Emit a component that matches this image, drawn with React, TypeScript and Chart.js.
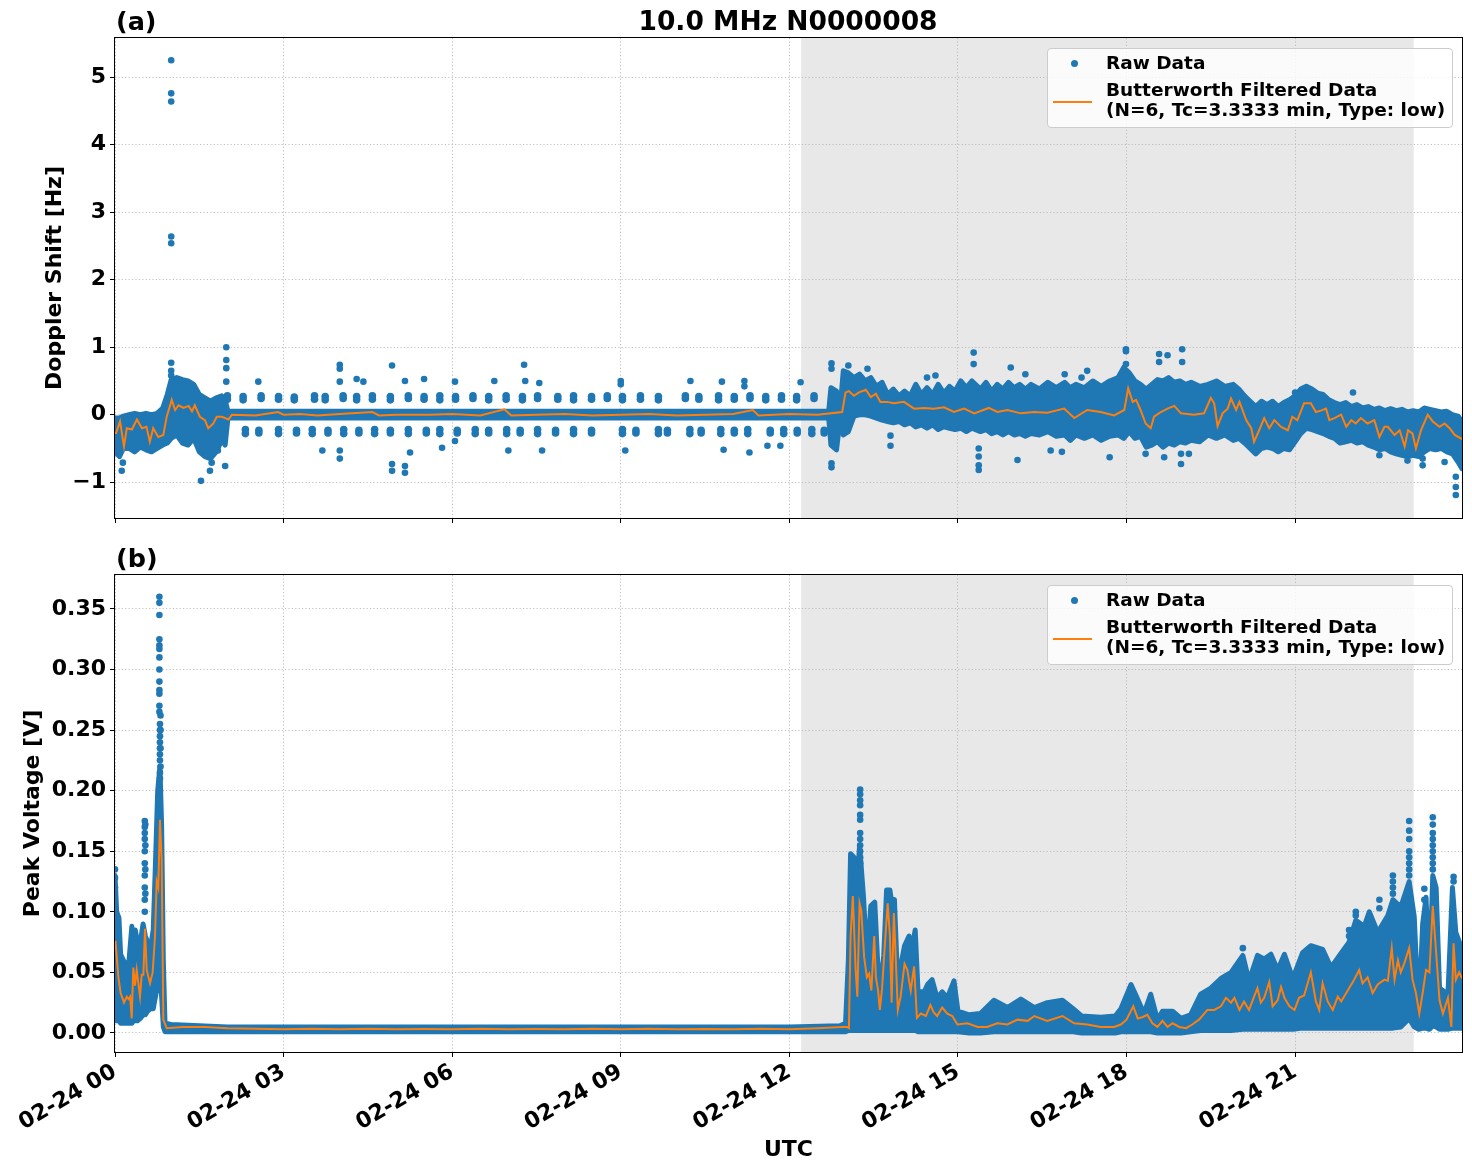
import React, { useEffect, useRef } from "react";
import { Chart, registerables } from "chart.js";
Chart.register(...registerables);

// ---------------- data (hours since 02-24 00:00 UTC) ----------------
const X_MIN = 0;
const X_MAX = 23.97;
const SHADE_START = 12.21;
const SHADE_END = 23.11;

const TITLE = "10.0 MHz N0000008";
const LEGEND_RAW = "Raw Data";
const LEGEND_FILT_1 = "Butterworth Filtered Data";
const LEGEND_FILT_2 = "(N=6, Tc=3.3333 min, Type: low)";

// Doppler: dense raw-data band [t, upper, lower]
const DOP_BAND: [number, number, number][] = [
  [0.0, -0.05, -0.55], [0.08, -0.05, -0.62], [0.15, -0.02, -0.5], [0.25, 0.0, -0.5], [0.35, 0.02, -0.55],
  [0.45, 0.0, -0.48], [0.55, 0.02, -0.52], [0.65, 0.0, -0.55], [0.75, 0.02, -0.5], [0.85, 0.1, -0.45],
  [0.93, 0.3, -0.42], [1.0, 0.52, -0.35], [1.1, 0.55, -0.3], [1.2, 0.52, -0.42], [1.3, 0.5, -0.45],
  [1.4, 0.45, -0.35], [1.5, 0.3, -0.55], [1.6, 0.25, -0.62], [1.7, 0.2, -0.65], [1.8, 0.25, -0.55],
  [1.9, 0.28, -0.38], [1.96, 0.22, -0.45], [2.01, 0.05, -0.05], [12.7, 0.05, -0.05], [12.74, 0.4, -0.45],
  [12.84, 0.35, -0.52], [12.9, 0.05, -0.08], [12.96, 0.65, -0.3], [13.05, 0.62, -0.25], [13.15, 0.55, -0.02],
  [13.25, 0.6, 0.0], [13.35, 0.5, 0.0], [13.45, 0.55, -0.02], [13.55, 0.42, -0.05], [13.65, 0.48, -0.08],
  [13.75, 0.3, -0.1], [13.85, 0.38, -0.12], [13.95, 0.28, -0.1], [14.05, 0.35, -0.15], [14.15, 0.28, -0.12],
  [14.25, 0.45, -0.18], [14.35, 0.3, -0.15], [14.45, 0.4, -0.2], [14.55, 0.3, -0.15], [14.65, 0.45, -0.22],
  [14.75, 0.32, -0.18], [14.85, 0.42, -0.2], [14.95, 0.35, -0.22], [15.05, 0.5, -0.2], [15.15, 0.4, -0.25],
  [15.25, 0.5, -0.2], [15.4, 0.38, -0.25], [15.5, 0.48, -0.22], [15.6, 0.35, -0.28], [15.7, 0.45, -0.25],
  [15.8, 0.38, -0.3], [15.9, 0.48, -0.25], [16.0, 0.4, -0.3], [16.1, 0.45, -0.28], [16.2, 0.38, -0.32],
  [16.3, 0.45, -0.28], [16.45, 0.38, -0.3], [16.6, 0.48, -0.25], [16.75, 0.4, -0.32], [16.9, 0.48, -0.3],
  [17.0, 0.4, -0.38], [17.1, 0.45, -0.3], [17.25, 0.4, -0.35], [17.4, 0.5, -0.3], [17.55, 0.42, -0.38],
  [17.7, 0.5, -0.32], [17.85, 0.55, -0.3], [17.95, 0.7, -0.35], [18.05, 0.62, -0.25], [18.15, 0.5, -0.35],
  [18.25, 0.45, -0.32], [18.35, 0.38, -0.48], [18.45, 0.45, -0.45], [18.55, 0.52, -0.4], [18.65, 0.5, -0.48],
  [18.75, 0.55, -0.42], [18.85, 0.48, -0.45], [18.95, 0.5, -0.4], [19.05, 0.45, -0.42], [19.15, 0.48, -0.38],
  [19.3, 0.42, -0.4], [19.45, 0.45, -0.3], [19.6, 0.5, -0.35], [19.75, 0.42, -0.3], [19.9, 0.45, -0.38],
  [20.0, 0.38, -0.35], [20.1, 0.28, -0.42], [20.2, 0.2, -0.5], [20.3, 0.12, -0.58], [20.4, 0.2, -0.5],
  [20.5, 0.15, -0.48], [20.6, 0.2, -0.5], [20.7, 0.12, -0.55], [20.8, 0.18, -0.5], [20.9, 0.22, -0.52],
  [21.0, 0.28, -0.4], [21.1, 0.38, -0.28], [21.2, 0.42, -0.2], [21.3, 0.38, -0.22], [21.4, 0.32, -0.25],
  [21.5, 0.3, -0.28], [21.6, 0.22, -0.32], [21.7, 0.18, -0.35], [21.8, 0.15, -0.42], [21.9, 0.18, -0.4],
  [22.0, 0.12, -0.38], [22.1, 0.15, -0.42], [22.2, 0.1, -0.4], [22.3, 0.12, -0.45], [22.4, 0.08, -0.48],
  [22.5, 0.1, -0.52], [22.6, 0.06, -0.5], [22.7, 0.09, -0.55], [22.8, 0.06, -0.58], [22.9, 0.08, -0.6],
  [23.0, 0.04, -0.62], [23.1, 0.06, -0.6], [23.2, 0.04, -0.62], [23.3, 0.1, -0.55], [23.4, 0.08, -0.5],
  [23.5, 0.06, -0.52], [23.6, 0.04, -0.5], [23.7, 0.05, -0.55], [23.8, 0.0, -0.58], [23.9, -0.02, -0.7],
  [23.97, -0.1, -0.8],
];

// Doppler: recurring raw-data clumps in the quiet period [t, values...]
const DOP_CLUMPS: [number, number[]][] = [
  [2.0, [0.28, 0.23]], [2.28, [0.27, 0.22]], [2.6, [0.28, 0.24]], [2.91, [0.27, 0.23]], [3.19, [0.26, 0.22]],
  [3.55, [0.28, 0.23]], [3.74, [0.27, 0.22]], [4.06, [0.28, 0.24]], [4.3, [0.27, 0.22]], [4.58, [0.28, 0.23]],
  [4.9, [0.27, 0.22]], [5.22, [0.28, 0.24]], [5.5, [0.27, 0.23]], [5.78, [0.28, 0.22]], [6.06, [0.27, 0.23]],
  [6.37, [0.28, 0.24]], [6.65, [0.27, 0.22]], [6.96, [0.28, 0.23]], [7.25, [0.27, 0.22]], [7.52, [0.28, 0.24]],
  [7.88, [0.27, 0.23]], [8.16, [0.28, 0.22]], [8.48, [0.27, 0.23]], [8.76, [0.28, 0.24]], [9.03, [0.27, 0.22]],
  [9.35, [0.28, 0.23]], [9.67, [0.27, 0.22]], [10.15, [0.28, 0.24]], [10.39, [0.27, 0.23]], [10.74, [0.28, 0.22]],
  [11.02, [0.27, 0.23]], [11.3, [0.28, 0.24]], [11.58, [0.27, 0.22]], [11.86, [0.28, 0.23]], [12.13, [0.27, 0.22]],
  [12.44, [0.28, 0.24]],
  [2.32, [-0.22, -0.28]], [2.56, [-0.23, -0.27]], [2.91, [-0.22, -0.28]], [3.23, [-0.23, -0.27]], [3.51, [-0.22, -0.28]],
  [3.79, [-0.23, -0.27]], [4.07, [-0.22, -0.28]], [4.34, [-0.23, -0.27]], [4.62, [-0.22, -0.28]], [4.9, [-0.23, -0.27]],
  [5.22, [-0.22, -0.28]], [5.54, [-0.23, -0.27]], [5.78, [-0.22, -0.28]], [6.09, [-0.23, -0.27]], [6.41, [-0.22, -0.28]],
  [6.65, [-0.23, -0.27]], [6.97, [-0.22, -0.28]], [7.21, [-0.23, -0.27]], [7.52, [-0.22, -0.28]], [7.84, [-0.23, -0.27]],
  [8.16, [-0.22, -0.28]], [8.48, [-0.23, -0.27]], [9.03, [-0.22, -0.28]], [9.27, [-0.23, -0.27]], [9.67, [-0.22, -0.28]],
  [9.83, [-0.23, -0.27]], [10.23, [-0.22, -0.28]], [10.43, [-0.23, -0.27]], [10.78, [-0.22, -0.28]], [11.02, [-0.23, -0.27]],
  [11.26, [-0.22, -0.28]], [11.66, [-0.23, -0.27]], [11.9, [-0.22, -0.28]], [12.14, [-0.23, -0.27]], [12.4, [-0.22, -0.28]],
  [12.62, [-0.23, -0.27]],
];

// Doppler: isolated raw-data points [t, values...]
const DOP_OUTLIERS: [number, number[]][] = [
  [0.12, [-0.83]], [0.14, [-0.71]], [1.0, [5.25, 4.76, 4.64, 2.64, 2.54, 0.77, 0.65, 0.58]],
  [1.53, [-0.98]], [1.62, [-0.6]], [1.69, [-0.83]], [1.72, [-0.71]], [1.83, [-0.53]],
  [1.96, [-0.76]], [1.98, [1.0, 0.81, 0.69, 0.49]], [2.55, [0.49]], [3.69, [-0.53]],
  [4.0, [0.74, 0.68, 0.49, -0.53, -0.65]], [4.3, [0.53]], [4.42, [0.49]], [4.93, [0.73, -0.73, -0.83]],
  [5.16, [0.5, -0.76, -0.86]], [5.25, [-0.56]], [5.5, [0.53]], [5.82, [-0.49]], [6.05, [0.49, -0.39]],
  [6.75, [0.5]], [7.0, [-0.53]], [7.28, [0.74]], [7.3, [0.5]], [7.55, [0.47]], [7.6, [-0.53]],
  [9.0, [0.5, 0.45]], [9.08, [-0.53]], [10.24, [0.5]], [10.8, [0.49]], [10.83, [-0.52]],
  [11.2, [0.5, 0.42]], [11.29, [-0.56]], [11.61, [-0.46]], [11.84, [-0.46]], [12.2, [0.48]],
  [12.75, [0.76, 0.68, -0.78, -0.72]], [13.05, [0.73]], [13.39, [0.68]], [13.8, [-0.31, -0.46]],
  [14.45, [0.55]], [14.6, [0.58]], [15.28, [0.92, 0.75]], [15.37, [-0.5, -0.62, -0.75, -0.82]],
  [15.94, [0.7]], [16.06, [-0.67]], [16.2, [0.6]], [16.65, [-0.53]], [16.85, [-0.55]], [16.9, [0.6]],
  [17.2, [0.55]], [17.3, [0.65]], [17.7, [-0.63]], [17.99, [0.97, 0.94, 0.75]], [18.34, [-0.58]],
  [18.58, [0.9, 0.78]], [18.67, [-0.63]], [18.73, [0.88]], [18.97, [-0.58, -0.73]], [18.99, [0.97, 0.78]],
  [19.11, [-0.58]], [21.0, [0.33, 0.24]], [22.03, [0.33]], [22.5, [-0.6]], [23.0, [-0.68]],
  [23.27, [-0.65, -0.75]], [23.66, [-0.7]], [23.86, [-0.92, -1.07, -1.19]],
];

// Doppler: Butterworth filtered series [t, value]
const DOP_FILTERED: [number, number][] = [
  [0.0, -0.27], [0.02, -0.27], [0.09, -0.1], [0.16, -0.47], [0.21, -0.2], [0.3, -0.22], [0.39, -0.07],
  [0.48, -0.2], [0.56, -0.18], [0.62, -0.4], [0.68, -0.2], [0.77, -0.33], [0.86, -0.3], [0.92, -0.03],
  [1.01, 0.22], [1.07, 0.07], [1.13, 0.14], [1.22, 0.1], [1.31, 0.13], [1.37, 0.05], [1.42, 0.14],
  [1.51, -0.03], [1.6, -0.08], [1.66, -0.2], [1.75, -0.13], [1.81, -0.03], [1.9, -0.03], [2.02, -0.07],
  [2.08, 0.0], [2.5, -0.01], [2.9, 0.04], [3.0, 0.0], [3.3, 0.01], [3.6, -0.01], [4.0, 0.01], [4.58, 0.04],
  [4.7, -0.01], [5.0, 0.0], [5.6, 0.0], [6.0, 0.01], [6.5, -0.01], [6.93, 0.08], [7.05, -0.01], [7.5, 0.0],
  [8.0, 0.01], [8.5, -0.01], [9.0, 0.0], [9.5, 0.01], [10.0, -0.01], [10.5, 0.0], [11.0, 0.01], [11.35, 0.07],
  [11.45, -0.01], [12.0, 0.01], [12.5, 0.0], [12.94, 0.04], [13.0, 0.33], [13.06, 0.35], [13.15, 0.28],
  [13.24, 0.33], [13.36, 0.37], [13.45, 0.26], [13.54, 0.31], [13.62, 0.19], [13.74, 0.19], [13.86, 0.17],
  [14.04, 0.19], [14.22, 0.09], [14.4, 0.1], [14.57, 0.09], [14.75, 0.11], [14.93, 0.04], [15.11, 0.09],
  [15.29, 0.02], [15.55, 0.1], [15.7, 0.04], [15.88, 0.07], [16.12, 0.02], [16.36, 0.04], [16.59, 0.03],
  [16.89, 0.09], [17.07, -0.05], [17.3, 0.07], [17.54, 0.04], [17.78, -0.01], [17.96, 0.07], [18.03, 0.39],
  [18.11, 0.19], [18.17, 0.22], [18.25, 0.07], [18.34, -0.13], [18.43, -0.2], [18.49, -0.03], [18.61, 0.04],
  [18.73, 0.09], [18.85, 0.13], [18.97, 0.02], [19.2, 0.0], [19.38, 0.02], [19.5, 0.25], [19.56, 0.17],
  [19.62, -0.17], [19.71, 0.02], [19.8, 0.09], [19.86, 0.24], [19.95, 0.07], [20.01, 0.19], [20.13, -0.08],
  [20.22, -0.2], [20.27, -0.4], [20.36, -0.23], [20.45, -0.05], [20.54, -0.2], [20.63, -0.08], [20.75, -0.18],
  [20.87, -0.23], [20.95, -0.03], [21.04, -0.08], [21.16, 0.17], [21.28, 0.17], [21.37, 0.04], [21.46, 0.06],
  [21.55, 0.09], [21.61, -0.08], [21.7, -0.05], [21.82, 0.0], [21.91, -0.18], [22.0, -0.08], [22.08, -0.13],
  [22.17, -0.05], [22.29, -0.13], [22.41, -0.08], [22.5, -0.33], [22.59, -0.18], [22.65, -0.18], [22.77, -0.3],
  [22.86, -0.23], [22.95, -0.47], [23.01, -0.23], [23.09, -0.28], [23.15, -0.5], [23.24, -0.23], [23.36, 0.0],
  [23.45, -0.1], [23.57, -0.18], [23.66, -0.13], [23.75, -0.2], [23.84, -0.3], [23.97, -0.36],
];

// Peak voltage: dense raw-data band [t, upper, lower]
const VOLT_BAND: [number, number, number][] = [
  [0.0, 0.13, 0.012], [0.03, 0.1, 0.01], [0.07, 0.095, 0.01], [0.1, 0.065, 0.008], [0.15, 0.06, 0.008],
  [0.2, 0.055, 0.008], [0.25, 0.06, 0.008], [0.3, 0.088, 0.008], [0.33, 0.06, 0.01], [0.36, 0.085, 0.01],
  [0.4, 0.075, 0.01], [0.45, 0.075, 0.012], [0.5, 0.09, 0.015], [0.54, 0.08, 0.015], [0.58, 0.075, 0.018],
  [0.63, 0.07, 0.02], [0.68, 0.085, 0.02], [0.72, 0.14, 0.03], [0.76, 0.2, 0.04], [0.8, 0.22, 0.05],
  [0.83, 0.17, 0.03], [0.86, 0.06, 0.005], [0.89, 0.008, 0.001], [1.0, 0.007, 0.001], [2.0, 0.005, 0.001],
  [12.0, 0.005, 0.001], [12.9, 0.006, 0.001], [13.0, 0.008, 0.001], [13.05, 0.06, 0.002], [13.09, 0.148, 0.002],
  [13.15, 0.145, 0.002], [13.2, 0.118, 0.002], [13.25, 0.155, 0.002], [13.32, 0.112, 0.002], [13.38, 0.06, 0.002],
  [13.45, 0.105, 0.002], [13.52, 0.108, 0.002], [13.57, 0.06, 0.002], [13.62, 0.035, 0.002], [13.68, 0.064, 0.002],
  [13.73, 0.118, 0.002], [13.79, 0.118, 0.002], [13.83, 0.105, 0.002], [13.87, 0.11, 0.002], [13.92, 0.05, 0.002],
  [13.98, 0.055, 0.002], [14.05, 0.072, 0.002], [14.13, 0.08, 0.002], [14.19, 0.072, 0.002], [14.24, 0.085, 0.002],
  [14.29, 0.034, 0.001], [14.4, 0.034, 0.001], [14.46, 0.04, 0.001], [14.54, 0.044, 0.001], [14.63, 0.029, 0.001],
  [14.72, 0.034, 0.001], [14.81, 0.029, 0.001], [14.93, 0.043, 0.001], [15.0, 0.018, 0.001], [15.2, 0.015, 0.0],
  [15.4, 0.016, 0.0], [15.64, 0.027, 0.001], [15.88, 0.021, 0.001], [16.12, 0.028, 0.001], [16.36, 0.021, 0.001],
  [16.59, 0.025, 0.001], [16.86, 0.027, 0.001], [17.05, 0.02, 0.001], [17.2, 0.014, 0.0], [17.54, 0.013, 0.0],
  [17.8, 0.014, 0.0], [17.9, 0.02, 0.001], [18.08, 0.04, 0.001], [18.16, 0.032, 0.001], [18.31, 0.016, 0.001],
  [18.43, 0.032, 0.001], [18.55, 0.011, 0.0], [18.64, 0.018, 0.0], [18.82, 0.018, 0.0], [18.97, 0.012, 0.0],
  [19.14, 0.015, 0.001], [19.32, 0.032, 0.002], [19.5, 0.037, 0.002], [19.68, 0.045, 0.002], [19.86, 0.05, 0.002],
  [20.07, 0.064, 0.003], [20.18, 0.043, 0.003], [20.33, 0.064, 0.003], [20.45, 0.061, 0.003], [20.57, 0.065, 0.003],
  [20.69, 0.052, 0.003], [20.81, 0.065, 0.003], [20.96, 0.045, 0.003], [21.13, 0.066, 0.004], [21.28, 0.072, 0.004],
  [21.49, 0.069, 0.004], [21.64, 0.054, 0.004], [21.79, 0.064, 0.004], [21.96, 0.075, 0.004], [22.08, 0.093, 0.004],
  [22.23, 0.088, 0.004], [22.32, 0.1, 0.004], [22.47, 0.083, 0.004], [22.65, 0.097, 0.004], [22.74, 0.11, 0.004],
  [22.88, 0.104, 0.005], [23.03, 0.125, 0.012], [23.12, 0.096, 0.005], [23.2, 0.015, 0.003], [23.27, 0.09, 0.004],
  [23.33, 0.112, 0.004], [23.39, 0.043, 0.003], [23.45, 0.13, 0.006], [23.51, 0.12, 0.005], [23.57, 0.037, 0.003],
  [23.72, 0.032, 0.003], [23.8, 0.12, 0.004], [23.86, 0.083, 0.004], [23.97, 0.069, 0.004],
];

// Peak voltage: isolated raw-data points [t, values...]
const VOLT_OUTLIERS: [number, number[]][] = [
  [0.0, [0.135, 0.128, 0.12]],
  [0.53, [0.175, 0.17, 0.165, 0.16, 0.15, 0.14, 0.13, 0.12, 0.11, 0.1]],
  [0.54, [0.172, 0.155, 0.135, 0.115]],
  [0.79, [0.36, 0.355, 0.345, 0.325, 0.32, 0.317, 0.31, 0.3, 0.29, 0.283, 0.28, 0.27, 0.265]],
  [0.8, [0.255, 0.25, 0.245, 0.24, 0.235, 0.23, 0.225, 0.215, 0.21, 0.2]],
  [0.81, [0.262, 0.25, 0.235, 0.22]],
  [13.26, [0.201, 0.197, 0.192, 0.188, 0.18, 0.176, 0.165, 0.16, 0.155, 0.15, 0.145, 0.14]],
  [20.07, [0.07]], [21.96, [0.085, 0.08]], [22.08, [0.1, 0.097]], [22.5, [0.11, 0.103]],
  [22.74, [0.13, 0.125, 0.12, 0.115]],
  [23.03, [0.175, 0.167, 0.16, 0.15, 0.145, 0.14, 0.135, 0.13]],
  [23.3, [0.119, 0.11]],
  [23.45, [0.178, 0.172, 0.165, 0.16, 0.155, 0.15, 0.145, 0.14, 0.135]],
  [23.82, [0.129, 0.125]],
];

// Peak voltage: Butterworth filtered series [t, value]
const VOLT_FILTERED: [number, number][] = [
  [0.0, 0.076], [0.01, 0.075], [0.06, 0.046], [0.1, 0.033], [0.16, 0.025], [0.21, 0.03], [0.24, 0.028],
  [0.27, 0.03], [0.297, 0.012], [0.326, 0.054], [0.356, 0.039], [0.386, 0.052], [0.445, 0.03], [0.475, 0.048],
  [0.505, 0.048], [0.534, 0.086], [0.564, 0.052], [0.623, 0.041], [0.67, 0.05], [0.712, 0.08], [0.742, 0.125],
  [0.77, 0.12], [0.8, 0.176], [0.83, 0.143], [0.86, 0.011], [0.92, 0.004], [1.2, 0.005], [1.6, 0.005],
  [2.0, 0.004], [2.5, 0.0035], [3.0, 0.003], [3.5, 0.0035], [4.0, 0.003], [4.5, 0.0035], [5.0, 0.003],
  [5.5, 0.0032], [6.0, 0.003], [6.5, 0.0035], [7.0, 0.003], [7.5, 0.0032], [8.0, 0.003], [8.5, 0.0035],
  [9.0, 0.003], [9.5, 0.0035], [10.0, 0.003], [10.5, 0.0033], [11.0, 0.003], [11.5, 0.0035], [12.0, 0.003],
  [12.5, 0.004], [12.95, 0.005], [13.03, 0.005], [13.06, 0.004], [13.09, 0.08], [13.13, 0.113], [13.18, 0.052],
  [13.21, 0.03], [13.25, 0.107], [13.28, 0.101], [13.33, 0.063], [13.38, 0.046], [13.42, 0.049], [13.46, 0.035],
  [13.51, 0.08], [13.54, 0.046], [13.58, 0.035], [13.61, 0.019], [13.65, 0.037], [13.71, 0.08], [13.75, 0.107],
  [13.79, 0.08], [13.82, 0.025], [13.86, 0.099], [13.89, 0.066], [13.93, 0.019], [13.98, 0.03], [14.05, 0.057],
  [14.1, 0.052], [14.16, 0.035], [14.22, 0.055], [14.27, 0.0125], [14.34, 0.016], [14.43, 0.014], [14.51, 0.023],
  [14.57, 0.017], [14.63, 0.014], [14.72, 0.021], [14.81, 0.016], [14.9, 0.014], [14.99, 0.007], [15.17, 0.008],
  [15.35, 0.005], [15.52, 0.005], [15.7, 0.008], [15.88, 0.007], [16.06, 0.011], [16.24, 0.01], [16.36, 0.014],
  [16.59, 0.01], [16.86, 0.014], [17.07, 0.008], [17.3, 0.007], [17.54, 0.005], [17.78, 0.005], [17.9, 0.007],
  [18.0, 0.011], [18.12, 0.022], [18.2, 0.012], [18.28, 0.013], [18.37, 0.015], [18.46, 0.008], [18.55, 0.005],
  [18.64, 0.01], [18.73, 0.005], [18.82, 0.008], [18.94, 0.005], [19.06, 0.004], [19.17, 0.007], [19.29, 0.011],
  [19.44, 0.019], [19.56, 0.019], [19.68, 0.022], [19.77, 0.029], [19.86, 0.025], [19.92, 0.029], [20.01, 0.019],
  [20.09, 0.026], [20.18, 0.019], [20.27, 0.03], [20.33, 0.037], [20.39, 0.025], [20.45, 0.029], [20.54, 0.042],
  [20.6, 0.022], [20.69, 0.027], [20.75, 0.038], [20.81, 0.029], [20.9, 0.022], [20.99, 0.019], [21.07, 0.029],
  [21.16, 0.031], [21.28, 0.05], [21.37, 0.026], [21.43, 0.019], [21.49, 0.041], [21.58, 0.026], [21.67, 0.019],
  [21.76, 0.03], [21.82, 0.026], [21.91, 0.033], [21.96, 0.037], [22.05, 0.044], [22.14, 0.052], [22.2, 0.041],
  [22.29, 0.046], [22.38, 0.033], [22.47, 0.04], [22.59, 0.044], [22.65, 0.043], [22.72, 0.07], [22.77, 0.044],
  [22.83, 0.06], [22.88, 0.05], [22.94, 0.057], [23.03, 0.07], [23.09, 0.044], [23.15, 0.033], [23.21, 0.016],
  [23.27, 0.033], [23.33, 0.052], [23.39, 0.05], [23.45, 0.105], [23.51, 0.066], [23.57, 0.027], [23.63, 0.016],
  [23.72, 0.029], [23.78, 0.005], [23.82, 0.074], [23.86, 0.044], [23.92, 0.05], [23.97, 0.045],
];

// ---------------- styling ----------------
const BLUE = "#1f77b4";
const ORANGE = "#ff7f0e";
const FONT = "DejaVu Sans";
const TICK_FONT = { family: FONT, size: 22, weight: "bold" as const };
const LABEL_FONT = { family: FONT, size: 22, weight: "bold" as const };

const band = (rows: [number, number, number][], i: number) => rows.map((r) => ({ x: r[0], y: r[i] }));
const pairs = (rows: [number, number][]) => rows.map((r) => ({ x: r[0], y: r[1] }));
const columns = (rows: [number, number[]][]) => rows.flatMap((r) => r[1].map((v) => ({ x: r[0], y: v })));

const panelPlugin = {
  id: "panelDecor",
  beforeDraw(chart: any) {
    const { ctx, chartArea: a, scales } = chart;
    const x0 = scales.x.getPixelForValue(SHADE_START);
    const x1 = scales.x.getPixelForValue(SHADE_END);
    ctx.save();
    ctx.fillStyle = "#e8e8e8";
    ctx.fillRect(x0, a.top, x1 - x0, a.bottom - a.top);
    ctx.restore();
  },
  afterDraw(chart: any) {
    const { ctx, chartArea: a } = chart;
    ctx.save();
    ctx.strokeStyle = "#000";
    ctx.lineWidth = 1;
    ctx.strokeRect(a.left - 0.5, a.top - 0.5, a.right - a.left + 1, a.bottom - a.top + 1);
    ctx.restore();
  },
};

function makeDatasets(bandRows: any, clumps: any, outliers: any, filtered: any) {
  const ds: any[] = [
    {
      data: pairs(filtered), showLine: true, borderColor: ORANGE, borderWidth: 2, pointRadius: 0,
      fill: false, tension: 0, clip: 0,
    },
    {
      data: columns(outliers), showLine: false, pointRadius: 3.3, pointBorderWidth: 0,
      pointBackgroundColor: BLUE, backgroundColor: BLUE, clip: 0,
    },
  ];
  if (clumps) {
    ds.push({
      data: columns(clumps), showLine: false, pointRadius: 3.8, pointBorderWidth: 0,
      pointBackgroundColor: BLUE, backgroundColor: BLUE, clip: 0,
    });
  }
  ds.push(
    {
      data: band(bandRows, 1), showLine: true, borderColor: BLUE, borderWidth: 5, pointRadius: 0,
      borderJoinStyle: "round", borderCapStyle: "round", fill: "+1", backgroundColor: BLUE, tension: 0, clip: 0,
    },
    {
      data: band(bandRows, 2), showLine: true, borderColor: BLUE, borderWidth: 5, pointRadius: 0,
      borderJoinStyle: "round", borderCapStyle: "round", fill: false, tension: 0, clip: 0,
    }
  );
  return ds;
}

function makeOptions(p: any) {
  return {
    responsive: false,
    animation: false,
    events: [],
    layout: { padding: { top: p.padTop, right: 10, left: 0, bottom: 0 } },
    plugins: { legend: { display: false }, tooltip: { enabled: false }, title: { display: false } },
    scales: {
      x: {
        type: "linear",
        min: X_MIN,
        max: X_MAX,
        afterFit: (s: any) => { s.height = p.xHeight; },
        grid: { color: "#b0b0b0", lineWidth: 0.8, tickColor: "#000", tickWidth: 1, tickLength: 5, tickBorderDash: [] },
        border: { display: false, dash: [1.2, 2.2] },
        ticks: {
          display: p.showXLabels,
          stepSize: 3,
          includeBounds: false,
          autoSkip: false,
          minRotation: 30,
          maxRotation: 30,
          padding: 2,
          color: "#000",
          font: TICK_FONT,
          callback: (v: number) => "02-24 " + String(Math.round(v)).padStart(2, "0"),
        },
        title: {
          display: p.showXLabels,
          text: "UTC",
          color: "#000",
          font: LABEL_FONT,
          padding: { top: 0, bottom: 8.8 },
        },
      },
      y: {
        type: "linear",
        min: p.yMin,
        max: p.yMax,
        afterFit: (s: any) => { s.width = 115; },
        grid: { color: "#b0b0b0", lineWidth: 0.8, tickColor: "#000", tickWidth: 1, tickLength: 5, tickBorderDash: [] },
        border: { display: false, dash: [1.2, 2.2] },
        ticks: {
          stepSize: p.yStep,
          includeBounds: false,
          padding: 4,
          color: "#000",
          font: TICK_FONT,
          callback: p.yFmt,
        },
        title: {
          display: true,
          text: p.yTitle,
          color: "#000",
          font: LABEL_FONT,
          padding: { top: p.yTitlePad, bottom: 0 },
        },
      },
    },
  };
}

function Legend({ top }: { top: number }) {
  const text: any = { position: "absolute", fontFamily: FONT, fontWeight: "bold", fontSize: 18.5, lineHeight: "20.5px", color: "#000", whiteSpace: "nowrap" };
  return (
    <div style={{ position: "absolute", left: 1047, top, width: 406, height: 80, boxSizing: "border-box", border: "1px solid #cccccc", borderRadius: 4, background: "rgba(255,255,255,0.8)" }}>
      <div style={{ position: "absolute", left: 22.5, top: 10.5, width: 7, height: 7, borderRadius: "50%", background: BLUE }} />
      <div style={{ ...text, left: 58, top: 3.5 }}>{LEGEND_RAW}</div>
      <div style={{ position: "absolute", left: 5, top: 51.5, width: 39, height: 2, background: ORANGE }} />
      <div style={{ ...text, left: 58, top: 30.5 }}>
        {LEGEND_FILT_1}
        <br />
        {LEGEND_FILT_2}
      </div>
    </div>
  );
}

export default function App() {
  const topRef = useRef<HTMLCanvasElement>(null);
  const botRef = useRef<HTMLCanvasElement>(null);

  useEffect(() => {
    Chart.defaults.font.family = FONT;
    const c1 = new Chart(topRef.current as any, {
      type: "scatter",
      data: { datasets: makeDatasets(DOP_BAND, DOP_CLUMPS, DOP_OUTLIERS, DOP_FILTERED) },
      options: makeOptions({
        padTop: 38, xHeight: 27, showXLabels: false, yMin: -1.53, yMax: 5.58, yStep: 1,
        yFmt: (v: number) => (v < 0 ? "\u2212" + Math.abs(v) : String(v)),
        yTitle: "Doppler Shift [Hz]", yTitlePad: 41.8,
      }) as any,
      plugins: [panelPlugin],
    });
    const c2 = new Chart(botRef.current as any, {
      type: "scatter",
      data: { datasets: makeDatasets(VOLT_BAND, null, VOLT_OUTLIERS, VOLT_FILTERED) },
      options: makeOptions({
        padTop: 30, xHeight: 120, showXLabels: true, yMin: -0.0157, yMax: 0.378, yStep: 0.05,
        yFmt: (v: number) => v.toFixed(2),
        yTitle: "Peak Voltage [V]", yTitlePad: 19.8,
      }) as any,
      plugins: [panelPlugin],
    });
    return () => { c1.destroy(); c2.destroy(); };
  }, []);

  const heading: any = { position: "absolute", fontFamily: FONT, fontWeight: "bold", color: "#000", whiteSpace: "nowrap" };
  return (
    <div style={{ position: "absolute", left: 0, top: 0, width: 1472, height: 1172, background: "#fff", overflow: "hidden" }}>
      <canvas ref={topRef} width={1472} height={545} style={{ position: "absolute", left: 0, top: 0 }} />
      <canvas ref={botRef} width={1472} height={627} style={{ position: "absolute", left: 0, top: 545 }} />
      <div style={{ ...heading, left: 488, width: 600, textAlign: "center", top: 8, fontSize: 26.5, lineHeight: "26px" }}>{TITLE}</div>
      <div style={{ ...heading, left: 116, top: 9, fontSize: 25.5, lineHeight: "25px" }}>(a)</div>
      <div style={{ ...heading, left: 116, top: 546, fontSize: 25.5, lineHeight: "25px" }}>(b)</div>
      <Legend top={48} />
      <Legend top={585} />
    </div>
  );
}
